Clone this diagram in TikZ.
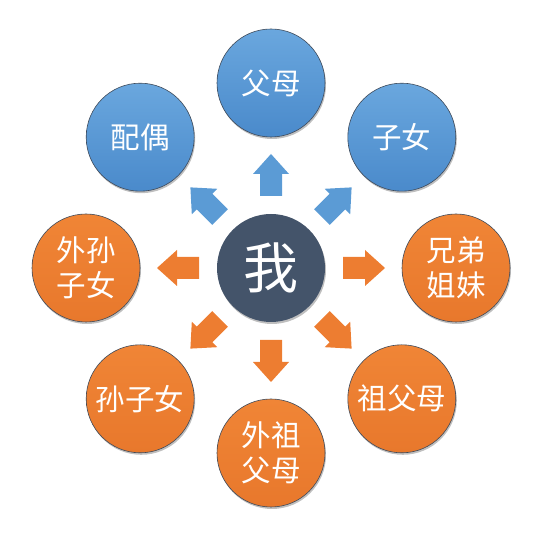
\documentclass[tikz,border=0pt]{standalone}
\usepackage{fontspec}
\setmainfont{Noto Sans CJK SC}
\usetikzlibrary{shadows}
\definecolor{blueT}{HTML}{6AA7DE}
\definecolor{blueB}{HTML}{4A8ACB}
\definecolor{oranT}{HTML}{F08536}
\definecolor{oranB}{HTML}{E8782C}
\definecolor{cblue}{HTML}{5B9BD5}
\definecolor{corange}{HTML}{ED7D31}
\definecolor{cslate}{HTML}{44546A}
\definecolor{cline}{HTML}{3E4A5A}
\tikzset{
  softshadow/.style={drop shadow={opacity=0.25, shadow xshift=1pt, shadow yshift=-2pt, fill=black}},
  bub/.style={circle, minimum size=108pt, inner sep=0pt, draw=cline, line width=0.6pt,
    text=white, align=center, font=\fontsize{29.5}{35}\selectfont, softshadow},
  bluebub/.style={bub, top color=blueT, bottom color=blueB},
  oranbub/.style={bub, top color=oranT, bottom color=oranB},
  mebub/.style={circle, minimum size=108pt, inner sep=0pt, fill=cslate, text=white,
    font=\fontsize{55}{55}\selectfont, softshadow},
  barrow/.pic={\path[pic actions] (72,-11) -- (94,-11) -- (94,-18) -- (114,0) -- (94,18) -- (94,11) -- (72,11) -- cycle;}
}
\begin{document}
\begin{tikzpicture}[x=1pt,y=1pt]
\useasboundingbox (0,0) rectangle (540,540);
\node[mebub] (me) at (271,272) {我};
\node[bluebub] (fm) at (271,457) {父母};
\node[bluebub] (zn) at (401.8,402.8) {子女};
\node[bluebub] (po) at (140.2,402.8) {配偶};
\node[oranbub] (xd) at (456,272) {兄弟\\姐妹};
\node[oranbub] (zf) at (401.8,141.2) {祖父母};
\node[oranbub] (wz) at (271,87) {外祖\\父母};
\node[oranbub] (sz) at (140.2,141.2) {孙子女};
\node[oranbub] (ws) at (86,272) {外孙\\子女};
\pic[fill=cblue, rotate=90, softshadow] at (me.center) {barrow};
\pic[fill=cblue, rotate=45, softshadow] at (me.center) {barrow};
\pic[fill=cblue, rotate=135, softshadow] at (me.center) {barrow};
\pic[fill=corange, rotate=0, softshadow] at (me.center) {barrow};
\pic[fill=corange, rotate=-45, softshadow] at (me.center) {barrow};
\pic[fill=corange, rotate=-90, softshadow] at (me.center) {barrow};
\pic[fill=corange, rotate=-135, softshadow] at (me.center) {barrow};
\pic[fill=corange, rotate=180, softshadow] at (me.center) {barrow};
\end{tikzpicture}
\end{document}
